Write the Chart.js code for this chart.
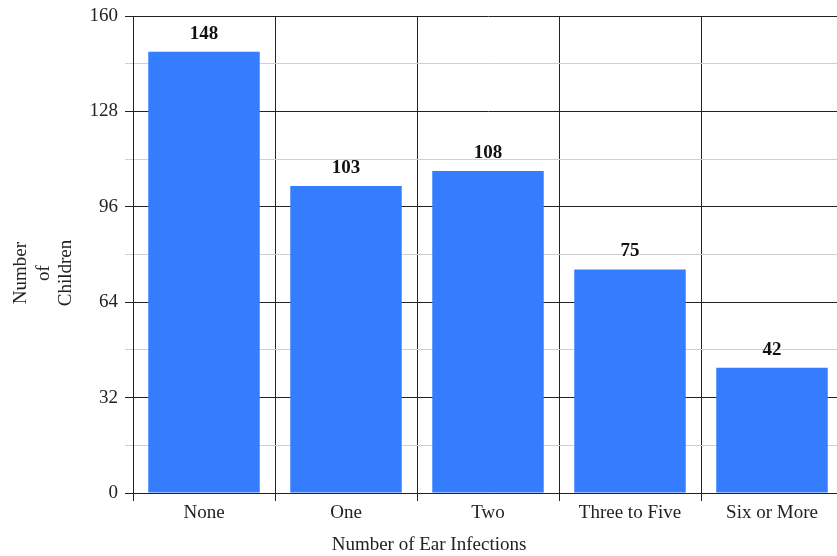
<!DOCTYPE html>
<html>
<head>
<meta charset="utf-8">
<script src="https://cdn.jsdelivr.net/npm/chart.js@4.4.1/dist/chart.umd.min.js"></script>
<style>
  html, body { margin: 0; padding: 0; background: #fff; overflow: hidden; }
  #wrap { position: relative; width: 843px; height: 556px; }
</style>
</head>
<body>
<div id="wrap"><canvas id="earChart"></canvas></div>
<script>
    var categories = ['None', 'One', 'Two', 'Three to Five', 'Six or More'];
    var children = [148, 103, 108, 75, 42];
    var yTicks = [0, 32, 64, 96, 128, 160];

    var serif = "'Liberation Serif', 'Times New Roman', serif";

    // value printed above each bar
    var barValues = {
        id: 'barValues',
        afterDatasetsDraw: function(chart) {
            var ctx = chart.ctx;
            var meta = chart.getDatasetMeta(0);
            ctx.save();
            ctx.font = 'bold 19px ' + serif;
            ctx.fillStyle = '#111';
            ctx.textAlign = 'center';
            ctx.textBaseline = 'middle';
            meta.data.forEach(function(bar, i) {
                ctx.fillText(children[i], bar.x, bar.y - 18);
            });
            ctx.restore();
        }
    };

    // axis titles
    var axisTitles = {
        id: 'axisTitles',
        afterDraw: function(chart) {
            var ctx = chart.ctx;
            ctx.save();
            ctx.font = '19px ' + serif;
            ctx.fillStyle = '#222';
            ctx.textAlign = 'center';
            ctx.textBaseline = 'middle';
            ctx.fillText('Number of Ear Infections', 429, 545);
            ctx.translate(0, 273);
            ctx.rotate(-Math.PI / 2);
            ['Number', 'of', 'Children'].forEach(function(line, i) {
                ctx.fillText(line, 0, 21.5 + i * 22.5);
            });
            ctx.restore();
        }
    };

    var ctx = document.getElementById('earChart').getContext('2d');
    var earChart = new Chart(ctx, {
        type: 'bar',
        data: {
            labels: categories,
            datasets: [{
                label: 'Number of Children',
                data: children,
                backgroundColor: '#347dff',
                borderWidth: 0,
                categoryPercentage: 1,
                barPercentage: 0.785
            }]
        },
        options: {
            responsive: true,
            maintainAspectRatio: false,
            animation: false,
            layout: { padding: { top: 16, left: 0, right: 0, bottom: 0 } },
            plugins: {
                legend: { display: false },
                tooltip: { enabled: false }
            },
            scales: {
                x: {
                    grid: {
                        offset: true,
                        color: '#222',
                        lineWidth: 1,
                        tickLength: 8
                    },
                    border: { color: '#222', width: 1 },
                    ticks: {
                        color: '#222',
                        padding: 1,
                        maxRotation: 0,
                        font: { family: serif, size: 19 }
                    },
                    afterFit: function(scale) {
                        scale.height = 63;
                        scale.paddingLeft = 0;
                        scale.paddingRight = 0;
                    }
                },
                y: {
                    min: 0,
                    max: 160,
                    grid: {
                        color: function(c) { return c.tick.value % 32 === 0 ? '#222' : '#cfcfcf'; },
                        tickColor: function(c) { return c.tick.value % 32 === 0 ? '#222' : '#cfcfcf'; },
                        lineWidth: 1,
                        tickLength: 8
                    },
                    border: { color: '#222', width: 1 },
                    ticks: {
                        stepSize: 16,
                        color: '#222',
                        padding: 7,
                        font: { family: serif, size: 19 },
                        callback: function(v) { return yTicks.indexOf(v) >= 0 ? v : ''; }
                    },
                    afterFit: function(scale) {
                        scale.width = 133;
                        scale.paddingTop = 0;
                        scale.paddingBottom = 0;
                    }
                }
            }
        },
        plugins: [barValues, axisTitles]
    });
</script>
</body>
</html>
